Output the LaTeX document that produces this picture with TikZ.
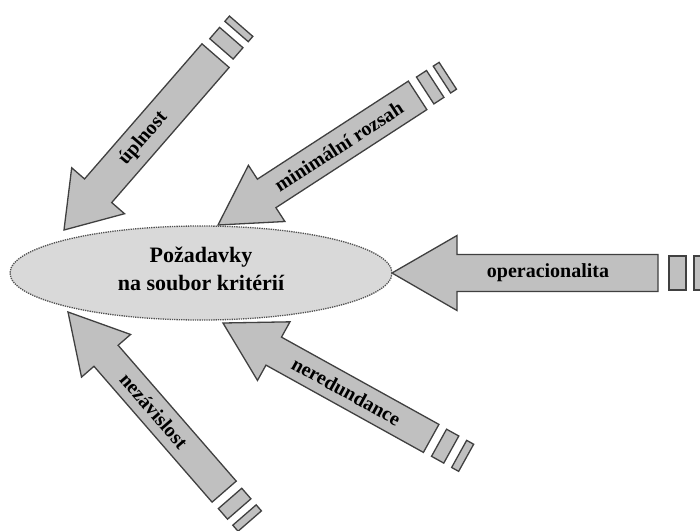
\documentclass[tikz,border=0pt]{standalone}
\usepackage{fontspec}
\setmainfont{Liberation Serif}
\usetikzlibrary{shapes.geometric}
\definecolor{arrowfill}{HTML}{C0C0C0}
\definecolor{arrowline}{HTML}{404040}
\definecolor{ellfill}{HTML}{D9D9D9}
\definecolor{elline}{HTML}{505050}
\tikzset{
 arrowbody/.style={fill=arrowfill, draw=arrowline, line width=1.3pt},
 arrowlabel/.style={font=\bfseries\fontsize{20}{22}\selectfont, inner sep=0pt},
 hub/.style={ellipse, fill=ellfill, draw=elline, line width=1.3pt, densely dotted,
   minimum width=382pt, minimum height=94pt, inner sep=0pt},
 hubtext/.style={font=\bfseries\fontsize{22}{28}\selectfont, align=center, inner sep=0pt}
}
\pgfkeys{/sa/.cd,
 L/.store in=\saL, H/.store in=\saH, W/.store in=\saW, B/.store in=\saB, S/.store in=\saS,
 ga/.store in=\saga, ta/.store in=\sata, gb/.store in=\sagb, tb/.store in=\satb, lp/.store in=\salp}
% #1 keys, #2 tip, #3 angle (tip -> tail), #4 name, #5 label
\newcommand\StripedArrow[5]{%
 \begin{scope}[shift={#2}, rotate=#3]
  \pgfkeys{/sa/.cd,L=238,H=58,W=67,B=33,S=31,ga=9,ta=14,gb=8,tb=8,lp=130,#1}
  \draw[arrowbody] (0,0) -- (\saH,\saW/2) -- (\saH,\saB/2) -- (\saL,\saB/2)
     -- (\saL,-\saB/2) -- (\saH,-\saB/2) -- (\saH,-\saW/2) -- cycle;
  \draw[arrowbody] ({\saL+\saga},{\saS/2}) rectangle ++(\sata,-\saS);
  \draw[arrowbody] ({\saL+\saga+\sata+\sagb},{\saS/2}) rectangle ++(\satb,-\saS);
  \node[arrowlabel, rotate=#3] (#4) at (\salp,0) {#5};
 \end{scope}}
\begin{document}
\begin{tikzpicture}[x=1pt,y=-1pt]
\clip (0,0) rectangle (700,530);
\fill[white] (0,0) rectangle (700,530);
\StripedArrow{L=231,H=52,W=70,B=36,S=31,ga=9,ta=15,gb=8,tb=7,lp=121}{(64,230)}{49}{upl}{úplnost}
\StripedArrow{L=238,H=58,W=67,B=34,S=32,ga=9,ta=12,gb=8,tb=7,lp=144}{(218,225)}{33}{minr}{minimální rozsah}
\StripedArrow{L=266,H=65,W=75,B=37,S=34,ga=11,ta=17,gb=8,tb=17,lp=156}{(392,273)}{0}{oper}{operacionalita}
\StripedArrow{L=238,H=58,W=67,B=32,S=31,ga=9,ta=14,gb=9,tb=8,lp=141}{(223,323)}{-29}{nered}{neredundance}
\StripedArrow{L=238,H=58,W=65,B=32,S=31,ga=9,ta=14,gb=8,tb=8,lp=131}{(68,312)}{-49}{nezav}{nezávislost}
\node[hub] (E) at (201,273) {};
\node[hubtext] (T) at (201,269) {Požadavky\\na soubor kritérií};
\end{tikzpicture}
\end{document}
